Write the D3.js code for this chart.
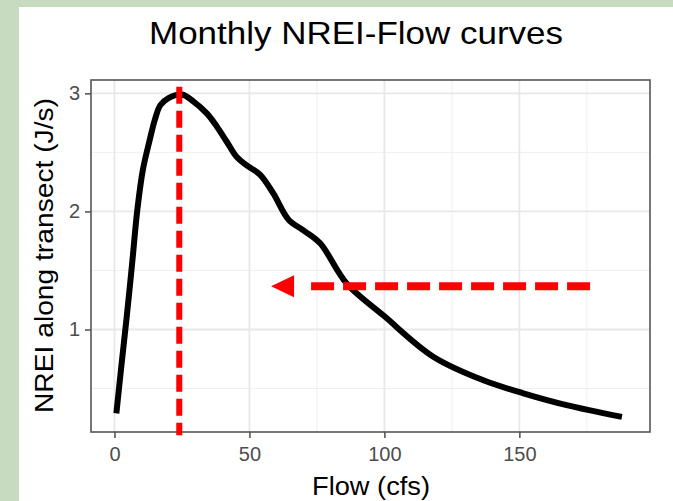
<!DOCTYPE html>
<html>
<head>
<meta charset="utf-8">
<script src="https://cdn.jsdelivr.net/npm/d3@7"></script>
<style>
html,body{margin:0;padding:0;background:#c6dbbf;}
svg{display:block;}
text{font-family:"Liberation Sans", Arial, sans-serif;}
</style>
</head>
<body>
<svg id="chart" width="673" height="501"></svg>
<script>
// ---- data ----
const flow = [0.7, 2.5, 4.5, 6.5, 8.4, 10.5, 13, 15, 17, 20, 25, 29.3, 34.2, 37.9, 41.6, 45.3, 49, 54, 58.9, 64.5, 70, 76.2, 86, 99.6, 118.1, 136.7, 151.5, 167.5, 188];
const nrei = [0.29, 0.68, 1.1, 1.55, 2.0, 2.35, 2.6, 2.78, 2.9, 2.96, 2.99, 2.93, 2.83, 2.72, 2.59, 2.46, 2.39, 2.31, 2.15, 1.93, 1.84, 1.73, 1.39, 1.12, 0.77, 0.57, 0.46, 0.36, 0.26];
const xTicks = [0, 50, 100, 150];
const xMinor = [25, 75, 125, 175];
const yTicks = [1, 2, 3];
const yMinor = [0.5, 1.5, 2.5];
const peakFlow = 24;            // vertical dashed marker
const arrowLevel = 1.367;       // horizontal arrow NREI level
const arrowFrom = 176.2, arrowTo = 58.0;
const titleText = "Monthly NREI-Flow curves";
const xTitle = "Flow (cfs)";
const yTitle = "NREI along transect (J/s)";

// ---- layout ----
const svg = d3.select("#chart");
const L = 91, R = 650, T = 80, B = 432;
const x = d3.scaleLinear().domain([-8.7, 198.4]).range([L, R]);
const y = d3.scaleLinear().domain([0.132, 3.113]).range([B, T]);

svg.append("rect").attr("x", 19).attr("y", 7).attr("width", 673 - 19).attr("height", 501 - 7).attr("fill", "#fff");

svg.append("text").attr("x", 356).attr("y", 44).attr("text-anchor", "middle")
  .attr("font-size", 32).attr("textLength", 414).attr("lengthAdjust", "spacingAndGlyphs")
  .attr("fill", "#000").text(titleText);

// grid
const g = svg.append("g");
g.selectAll(".xmin").data(xMinor).join("line")
  .attr("x1", d => x(d)).attr("x2", d => x(d)).attr("y1", T).attr("y2", B)
  .attr("stroke", "#efefef").attr("stroke-width", 1);
g.selectAll(".ymin").data(yMinor).join("line")
  .attr("y1", d => y(d)).attr("y2", d => y(d)).attr("x1", L).attr("x2", R)
  .attr("stroke", "#efefef").attr("stroke-width", 1);
g.selectAll(".xmaj").data(xTicks).join("line")
  .attr("x1", d => x(d)).attr("x2", d => x(d)).attr("y1", T).attr("y2", B)
  .attr("stroke", "#e8e8e8").attr("stroke-width", 1.8);
g.selectAll(".ymaj").data(yTicks).join("line")
  .attr("y1", d => y(d)).attr("y2", d => y(d)).attr("x1", L).attr("x2", R)
  .attr("stroke", "#e8e8e8").attr("stroke-width", 1.8);

// axes
const xAxis = svg.append("g").attr("transform", `translate(0,${B})`)
  .call(d3.axisBottom(x).tickValues(xTicks).tickFormat(d3.format("d")).tickSize(6).tickPadding(9));
const yAxis = svg.append("g").attr("transform", `translate(${L},0)`)
  .call(d3.axisLeft(y).tickValues(yTicks).tickFormat(d3.format("d")).tickSize(6).tickPadding(5));
[xAxis, yAxis].forEach(a => {
  a.select(".domain").remove();
  a.selectAll(".tick line").attr("stroke", "#4d4d4d").attr("stroke-width", 1.5);
  a.selectAll(".tick text").attr("fill", "#4d4d4d").attr("font-size", 20)
    .attr("font-family", "Liberation Sans, Arial, sans-serif");
});

// panel border
svg.append("rect").attr("x", L).attr("y", T).attr("width", R - L).attr("height", B - T)
  .attr("fill", "none").attr("stroke", "#555").attr("stroke-width", 1.6);

// curve
const pts = flow.map((f, i) => [f, nrei[i]]);
svg.append("path").datum(pts)
  .attr("d", d3.line().x(d => x(d[0])).y(d => y(d[1])).curve(d3.curveCatmullRom.alpha(0.5)))
  .attr("fill", "none").attr("stroke", "#000").attr("stroke-width", 6)
  .attr("stroke-linejoin", "round");

// vertical dashed marker
svg.append("line")
  .attr("x1", x(peakFlow)).attr("x2", x(peakFlow))
  .attr("y1", y(3.055)).attr("y2", y(0.105))
  .attr("stroke", "#ff0000").attr("stroke-width", 6).attr("stroke-dasharray", "17 7");

// horizontal dashed arrow
const ay = y(arrowLevel);
const tipX = x(arrowTo), baseX = tipX + 23;
svg.append("line")
  .attr("x1", x(arrowFrom)).attr("x2", baseX + 16).attr("y1", ay).attr("y2", ay)
  .attr("stroke", "#ff0000").attr("stroke-width", 8).attr("stroke-dasharray", "23 9");
svg.append("path")
  .attr("d", `M${tipX},${ay}L${baseX},${ay - 11}L${baseX},${ay + 11}Z`)
  .attr("fill", "#ff0000");

// axis titles
svg.append("text").attr("x", 371).attr("y", 495).attr("text-anchor", "middle")
  .attr("font-size", 25).attr("textLength", 118).attr("lengthAdjust", "spacingAndGlyphs")
  .attr("fill", "#000").text(xTitle);
svg.append("text").attr("transform", "translate(53,255.5) rotate(-90)").attr("text-anchor", "middle")
  .attr("font-size", 25).attr("textLength", 315).attr("lengthAdjust", "spacingAndGlyphs")
  .attr("fill", "#000").text(yTitle);
</script>
</body>
</html>
